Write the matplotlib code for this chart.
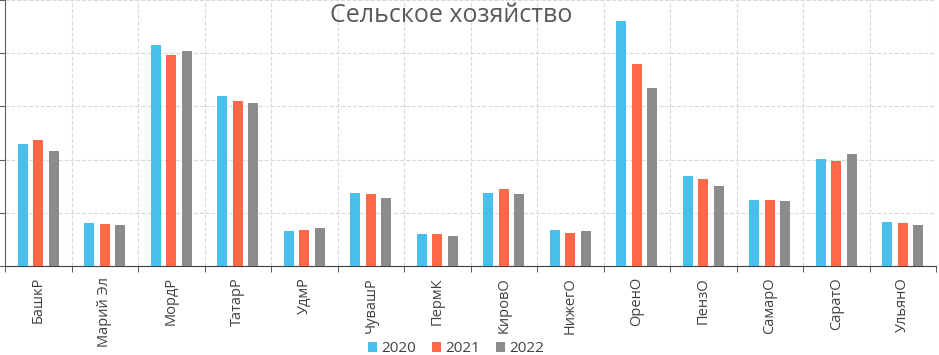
import matplotlib
matplotlib.use('Agg')
import matplotlib.pyplot as plt
import numpy as np

regions = ['БашкР', 'Марий Эл', 'МордР', 'ТатарР', 'УдмР', 'ЧувашР', 'ПермК',
           'КировО', 'НижегО', 'ОренО', 'ПензО', 'СамарО', 'СаратО', 'УльянО']
years = ['2020', '2021', '2022']
v2020 = [2.29, 0.81, 4.15, 3.20, 0.66, 1.37, 0.61, 1.37, 0.67, 4.61, 1.70, 1.25, 2.01, 0.83]
v2021 = [2.37, 0.79, 3.97, 3.11, 0.68, 1.36, 0.60, 1.44, 0.62, 3.79, 1.64, 1.25, 1.97, 0.80]
v2022 = [2.16, 0.78, 4.04, 3.06, 0.71, 1.28, 0.56, 1.36, 0.65, 3.34, 1.50, 1.22, 2.10, 0.77]
colors = ['#48BEEA', '#FF6849', '#8C8C8C']

plt.rcParams['font.family'] = ['Open Sans', 'DejaVu Sans']

fig = plt.figure(figsize=[9.39, 3.55], dpi=100)
ax = fig.add_axes([5/939, 89/355, 931/939, 266/355])

x = np.arange(len(regions))
w = 0.15
off = 0.233
for k, (vals, yr) in enumerate(zip([v2020, v2021, v2022], years)):
    ax.bar(x + (k - 1)*off, vals, w, color=colors[k], label=yr, zorder=3)

ax.set_xlim(-0.5, len(regions) - 0.5)
ax.set_ylim(0, 5)
ax.set_yticks(np.arange(0, 6, 1))
ax.set_yticklabels([])
ax.set_xticks(x)
ax.set_xticklabels(regions, rotation=90, fontsize=10.5, color='#404040')
ax.set_xticks(np.arange(-0.5, len(regions), 1), minor=True)
ax.tick_params(axis='x', which='major', length=0, pad=8)
ax.tick_params(axis='x', which='minor', length=4, color='#404040')
ax.tick_params(axis='y', length=4, color='#606060')

ax.grid(axis='y', which='major', linestyle='--', color='#D9D9D9', linewidth=0.8, zorder=0)
ax.grid(axis='x', which='minor', linestyle='--', color='#D9D9D9', linewidth=0.8, zorder=0)
for s in ['top', 'right']:
    ax.spines[s].set_visible(False)
ax.spines['left'].set_color('#606060')
ax.spines['bottom'].set_color('#404040')

fig.text(451/939, 1 - 16/355, 'Сельское хозяйство', ha='center', va='center',
         fontsize=18, color='#595959')

fig.legend(loc='center', bbox_to_anchor=(456/939, 1 - 349/355), ncol=3, frameon=False,
           fontsize=11, handlelength=0.6, handleheight=0.6, handletextpad=0.3,
           columnspacing=1.0, labelcolor='#404040', borderpad=0)

plt.savefig('out.png', dpi=100)
